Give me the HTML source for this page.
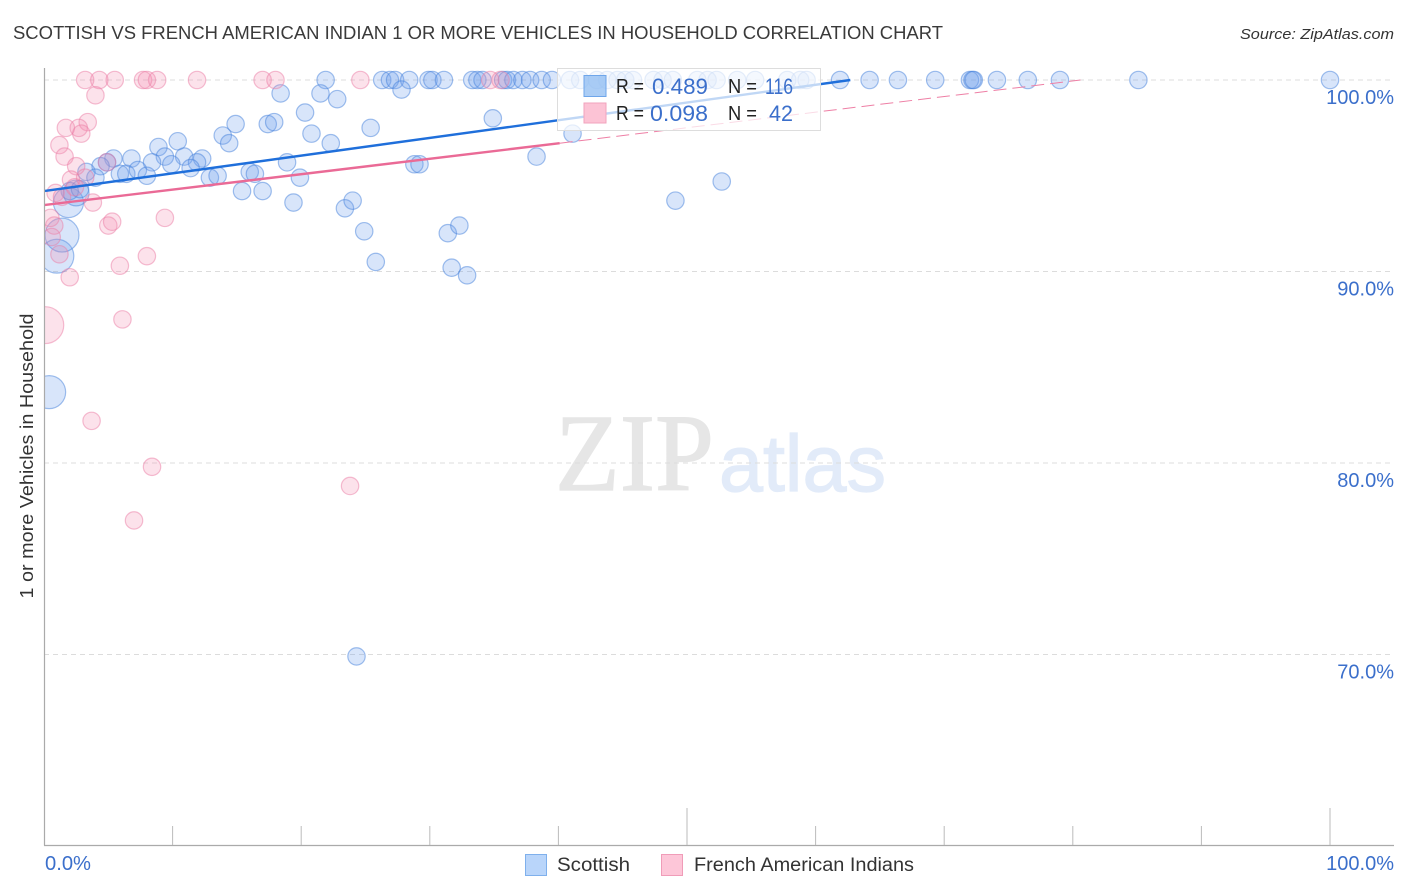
<!DOCTYPE html>
<html lang="en">
<head>
<meta charset="utf-8">
<title>Scottish vs French American Indian Chart</title>
<style>
html,body{margin:0;padding:0;background:#fff;}
svg{display:block;font-family:"Liberation Sans",sans-serif;}
</style>
</head>
<body>
<svg id="chart" width="1406" height="892" viewBox="0 0 1406 892" xmlns="http://www.w3.org/2000/svg">
  <text x="13" y="39" font-size="18.5" fill="#3a3a3a" textLength="930" lengthAdjust="spacingAndGlyphs">SCOTTISH VS FRENCH AMERICAN INDIAN 1 OR MORE VEHICLES IN HOUSEHOLD CORRELATION CHART</text>
  <text x="1394" y="39" font-size="15" font-style="italic" fill="#333" text-anchor="end" textLength="154" lengthAdjust="spacingAndGlyphs">Source: ZipAtlas.com</text>
  <text x="555" y="490" font-family="'Liberation Serif',serif" font-size="110" fill="#e6e6e6" stroke="#e6e6e6" stroke-width="1.2" textLength="159" lengthAdjust="spacingAndGlyphs">ZIP</text>
  <text x="719" y="491" font-size="80" fill="#e2ebf9" stroke="#e2ebf9" stroke-width="1.2" textLength="167" lengthAdjust="spacingAndGlyphs">atlas</text>
  <g id="grid"></g>
  <g id="marks"></g>
  <rect x="0" y="60" width="44.5" height="790" fill="#fff"/>
  <g id="axes"></g>
  <text transform="translate(33,456) rotate(-90)" font-size="18.5" fill="#333" text-anchor="middle" textLength="285" lengthAdjust="spacingAndGlyphs">1 or more Vehicles in Household</text>

  <g>
    <rect x="557.5" y="68.5" width="263" height="62" fill="#fff" fill-opacity="0.72" stroke="#ddd"/>
    <rect x="584" y="75.5" width="22" height="21" fill="#8fbcf2" fill-opacity="0.75" stroke="#6fa6ea"/>
    <rect x="584" y="103" width="22" height="20" fill="#fcc3d5" stroke="#f2a3bd"/>
    <text x="616" y="93" font-size="20" fill="#222" textLength="28" lengthAdjust="spacingAndGlyphs">R =</text>
    <text x="652" y="94" font-size="22" fill="#3b6fcb" textLength="56" lengthAdjust="spacingAndGlyphs">0.489</text>
    <text x="728" y="93" font-size="20" fill="#222" textLength="29" lengthAdjust="spacingAndGlyphs">N =</text>
    <text x="765" y="94" font-size="22" fill="#3b6fcb" textLength="28" lengthAdjust="spacingAndGlyphs">116</text>
    <text x="616" y="120" font-size="20" fill="#222" textLength="28" lengthAdjust="spacingAndGlyphs">R =</text>
    <text x="650" y="121" font-size="22" fill="#3b6fcb" textLength="58" lengthAdjust="spacingAndGlyphs">0.098</text>
    <text x="728" y="120" font-size="20" fill="#222" textLength="29" lengthAdjust="spacingAndGlyphs">N =</text>
    <text x="769" y="121" font-size="22" fill="#3b6fcb" textLength="24" lengthAdjust="spacingAndGlyphs">42</text>
  </g>

  <g>
    <rect x="525.5" y="854.5" width="21" height="21" fill="#b9d5fa" stroke="#7fb0ec"/>
    <text x="557" y="871" font-size="19" fill="#333" textLength="73" lengthAdjust="spacingAndGlyphs">Scottish</text>
    <rect x="661.5" y="854.5" width="21" height="21" fill="#fdc6d8" stroke="#f09cb8"/>
    <text x="694" y="871" font-size="19" fill="#333" textLength="220" lengthAdjust="spacingAndGlyphs">French American Indians</text>
  </g>
</svg>
<script>
const scottishX = [21.9,26.3,26.9,27.3,28.4,29.9,30.2,31.1,33.3,33.7,34.1,35.7,36.0,36.5,37.2,37.8,38.7,39.5,40.9,41.7,43.0,43.8,44.6,45.2,45.8,47.4,48.1,48.9,50.8,51.6,52.3,53.9,55.3,57.8,58.8,59.3,61.9,64.2,66.4,69.3,72.0,72.2,72.3,74.1,76.5,79.0,85.1,100.0,
18.4,21.5,22.8,27.8,34.9,25.4,14.9,13.9,14.4,17.4,17.9,20.8,22.3,20.3,10.4,8.9,9.4,10.9,12.3,11.9,11.4,9.9,8.4,6.8,5.4,4.9,4.4,3.3,4.0,5.9,6.4,7.3,8.0,12.9,13.5,16.0,16.4,15.4,17.0,18.9,19.4,19.9,23.4,24.0,24.9,25.8,31.4,32.3,31.7,32.9,28.8,29.2,38.3,41.1,49.1,52.7,24.3,
0.4,1.0,1.4,1.9,2.5,2.0,2.8];
const scottishY = [100,100,100,100,100,100,100,100,100,100,100,100,100,100,100,100,100,100,100,100,100,100,100,100,100,100,100,100,100,100,100,100,100,100,100,100,100,100,100,100,100,100,100,100,100,100,100,100,
99.3,99.3,99.0,99.5,98.0,97.5,97.7,97.1,96.7,97.7,97.8,97.2,96.7,98.3,96.8,96.5,96.0,96.0,95.9,95.7,95.4,95.6,95.7,95.9,95.9,95.7,95.5,95.2,94.9,95.1,95.1,95.3,95.0,94.9,95.0,95.2,95.1,94.2,94.2,95.7,93.6,94.9,93.3,93.7,92.1,90.5,92.0,92.4,90.2,89.8,95.6,95.6,96.0,97.2,93.7,94.7,69.9,
83.7,90.8,91.9,93.6,94.1,94.2,94.3];
const scottishPop = [1,1,1,1,1,1,1,1,1,1,1,1,1,1,1,1,1,1,1,1,1,1,1,1,1,1,1,1,1,1,1,1,1,1,1,1,1,1,1,1,1,1,1,1,1,1,1,1,
1,1,1,1,1,1,1,1,1,1,1,1,1,1,1,1,1,1,1,1,1,1,1,1,1,1,1,1,1,1,1,1,1,1,1,1,1,1,1,1,1,1,1,1,1,1,1,1,1,1,1,1,1,1,1,1,1,
3.6,3.8,3.8,3,2.2,1,1];

const frenchX = [3.2,4.3,5.5,7.7,8.0,8.8,11.9,17.0,18.0,24.6,34.7,35.5,
4.0,3.4,1.7,2.7,2.9,1.2,1.6,2.5,2.1,3.2,4.9,0.9,1.4,2.4,3.8,0.5,0.8,0.6,1.2,2.0,5.0,5.3,8.0,5.9,9.4,6.1,3.7,8.4,7.0,23.8,0.1];
const frenchY = [100,100,100,100,100,100,100,100,100,100,100,100,
99.2,97.8,97.5,97.5,97.2,96.6,96.0,95.5,94.8,94.9,95.7,94.1,93.9,94.4,93.6,92.8,92.4,91.8,90.9,89.7,92.4,92.6,90.8,90.3,92.8,87.5,82.2,79.8,77.0,78.8,87.2];
const frenchPop = [1,1,1,1,1,1,1,1,1,1,1,1,
1,1,1,1,1,1,1,1,1,1,1,1,1,1,1,1,1,1,1,1,1,1,1,1,1,1,1,1,1,1,4.5];

const scottishTrendX = [0, 62.7];
const scottishTrendY = [94.2, 100];
const frenchSolidX = [0, 40.1];
const frenchSolidY = [93.47, 96.7];
const frenchDashX = [40.1, 80.6];
const frenchDashY = [96.7, 100];

const yGridValues = [100, 90, 80, 70];
const yTickLabels = ['100.0%', '90.0%', '80.0%', '70.0%'];
const xMinorTicks = [10, 20, 30, 40, 60, 70, 80, 90];
const xMajorTicks = [50, 100];
const xEndLabels = ['0.0%', '100.0%'];

const NS = 'http://www.w3.org/2000/svg';
const xScale = v => 44 + v * 12.86;
const yScale = v => 80 + (100 - v) * 19.15;
const rScale = p => 8.7 * Math.sqrt(p);

function make(tag, attrs, parent) {
  const el = document.createElementNS(NS, tag);
  for (const k in attrs) el.setAttribute(k, attrs[k]);
  parent.appendChild(el);
  return el;
}

const grid = document.getElementById('grid');
const axes = document.getElementById('axes');
const marks = document.getElementById('marks');

yGridValues.forEach((v, i) => {
  const line = make('line', {x1: 44, x2: 1394, y1: yScale(v), y2: yScale(v), stroke: '#dcdcdc', 'stroke-dasharray': '5 4'}, grid);
  
  
  const t = make('text', {x: 1394, y: yScale(v) + 24, 'font-size': 20, fill: '#3b6fcb', 'text-anchor': 'end'}, axes);
  
  
  t.textContent = yTickLabels[i];
});

const yAxisLine = make('line', {x1: 44.5, x2: 44.5, y1: 68, y2: 845.5, stroke: '#aaa', 'stroke-width': 1.2}, axes);


const xAxisLine = make('line', {x1: 44, x2: 1394, y1: 845.5, y2: 845.5, stroke: '#aaa', 'stroke-width': 1.2}, axes);



xMinorTicks.forEach(v => {
  const tick = make('line', {x1: xScale(v), x2: xScale(v), y1: 826, y2: 845, stroke: '#bbb'}, axes);
  
  
});
xMajorTicks.forEach(v => {
  const tick = make('line', {x1: xScale(v), x2: xScale(v), y1: 808, y2: 845, stroke: '#bbb'}, axes);
  
  
});

const xStart = make('text', {x: 45, y: 870, 'font-size': 20, fill: '#3b6fcb', textLength: 46, lengthAdjust: 'spacingAndGlyphs'}, axes);


xStart.textContent = xEndLabels[0];
const xEnd = make('text', {x: 1394, y: 870, 'font-size': 20, fill: '#3b6fcb', 'text-anchor': 'end'}, axes);


xEnd.textContent = xEndLabels[1];

scottishX.forEach((x, i) => {
  const c = make('circle', {cx: xScale(x), cy: yScale(scottishY[i]), r: rScale(scottishPop[i]), fill: 'rgba(110,160,235,0.27)', stroke: 'rgba(70,130,220,0.5)', 'stroke-width': 1.2}, marks);
  
  
});
frenchX.forEach((x, i) => {
  const c = make('circle', {cx: xScale(x), cy: yScale(frenchY[i]), r: rScale(frenchPop[i]), fill: 'rgba(245,140,175,0.25)', stroke: 'rgba(235,125,165,0.5)', 'stroke-width': 1.2}, marks);
  
  
});

const frenchDash = make('line', {x1: xScale(frenchDashX[0]), y1: yScale(frenchDashY[0]), x2: xScale(frenchDashX[1]), y2: yScale(frenchDashY[1]), stroke: '#ee7fa5', 'stroke-width': 1, 'stroke-dasharray': '13 6'}, marks);


const frenchLine = make('line', {x1: xScale(frenchSolidX[0]), y1: yScale(frenchSolidY[0]), x2: xScale(frenchSolidX[1]), y2: yScale(frenchSolidY[1]), stroke: '#ea6a96', 'stroke-width': 2.4}, marks);


const scottishLine = make('line', {x1: xScale(scottishTrendX[0]), y1: yScale(scottishTrendY[0]), x2: xScale(scottishTrendX[1]), y2: yScale(scottishTrendY[1]), stroke: '#1f6fdb', 'stroke-width': 2.4}, marks);


</script>
</body>
</html>
